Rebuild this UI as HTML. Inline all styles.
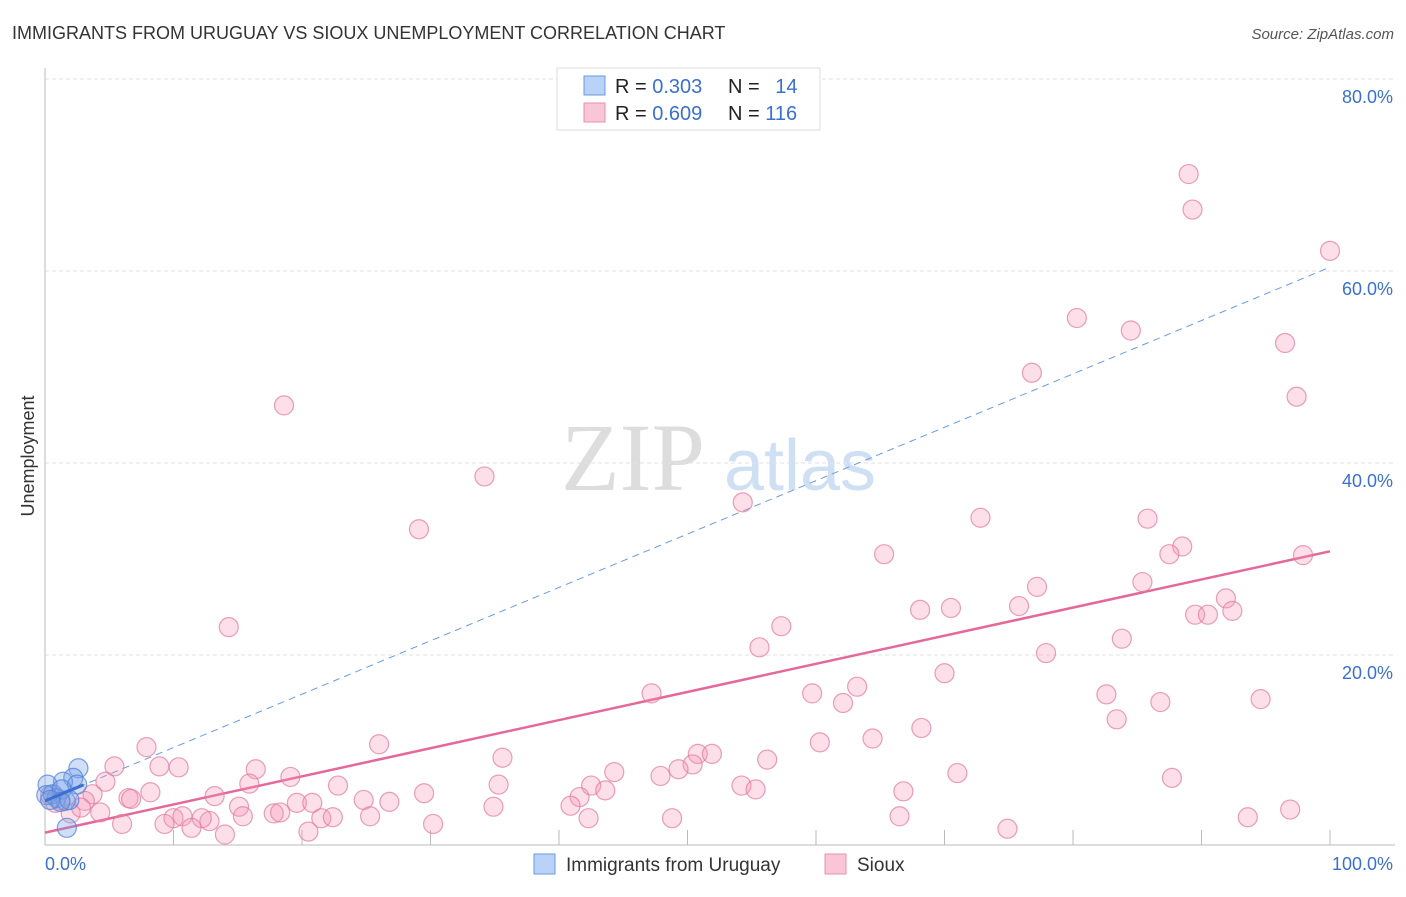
<!DOCTYPE html>
<html><head><meta charset="utf-8"><style>
body{margin:0;background:#fff;width:1406px;height:892px;overflow:hidden;font-family:"Liberation Sans",sans-serif}
</style></head><body>
<svg id="chart" width="1406" height="892" xmlns="http://www.w3.org/2000/svg" font-family="Liberation Sans, sans-serif">
<text x="12" y="39" font-size="18" fill="#333">IMMIGRANTS FROM URUGUAY VS SIOUX UNEMPLOYMENT CORRELATION CHART</text>
<text x="1394" y="39" font-size="15" font-style="italic" fill="#555" text-anchor="end">Source: ZipAtlas.com</text>
<g>
<text x="633" y="490" font-size="96" font-family="Liberation Serif, serif" fill="#ddd" text-anchor="middle">ZIP</text>
<text x="800" y="490" font-size="72" fill="#cfe0f5" text-anchor="middle">atlas</text>
</g>
<g id="grid"></g>
<g id="axes"></g>
<text transform="translate(34,456) rotate(-90)" font-size="18" fill="#333" text-anchor="middle">Unemployment</text>
<g id="lines"></g>
<g id="pts"></g>
<g>
<rect x="557" y="68" width="263" height="62" fill="#fff" stroke="#ddd"/>
<rect x="584" y="76" width="21" height="19" fill="#b8d3f5" stroke="#6a9be0"/>
<rect x="584" y="103" width="21" height="19" fill="#f9c6d5" stroke="#e890ac"/>
<text x="615" y="93" font-size="20" fill="#222">R = <tspan fill="#3b6fd0">0.303</tspan></text>
<text x="728" y="93" font-size="20" fill="#222">N = <tspan fill="#3b6fd0" dx="10">14</tspan></text>
<text x="615" y="120" font-size="20" fill="#222">R = <tspan fill="#3b6fd0">0.609</tspan></text>
<text x="728" y="120" font-size="20" fill="#222">N = <tspan fill="#3b6fd0">116</tspan></text>
</g>
<g>
<rect x="534" y="854" width="21" height="20" fill="#b8d3f5" stroke="#6a9be0"/>
<text x="566" y="871" font-size="19" fill="#333">Immigrants from Uruguay</text>
<rect x="825" y="854" width="21" height="20" fill="#f9c6d5" stroke="#e890ac"/>
<text x="857" y="871" font-size="19" fill="#333">Sioux</text>
</g>
</svg>
<script>
const yTicks=[20,40,60,80];
const yTickLabels=["20.0%","40.0%","60.0%","80.0%"];
const xTicks=[10,20,30,40,50,60,70,80,90,100];
const blueX=[2.6,2.2,1.4,2.5,0.2,0.6,0.9,1.6,0.1,1.7,1.3,1.9,1.2,0.4];
const blueY=[8.2,7.2,6.8,6.5,6.5,5.5,5.1,4.8,5.4,2.0,6.0,4.9,4.7,4.9];
const pinkX=[89.0,89.3,100,80.3,84.5,96.5,76.8,97.4,18.6,34.2,54.3,29.1,72.8,85.8,65.3,88.5,87.5,97.9,77.2,85.4,75.8,70.5,68.1,91.9,92.4,89.5,90.5,14.3,57.3,55.6,77.9,83.8,70.0,47.2,59.7,63.2,62.1,82.6,86.8,94.6,83.4,68.2,60.3,64.4,26.0,7.9,35.6,50.8,51.9,50.4,56.2,49.3,47.9,44.3,71.0,87.7,16.4,19.1,5.4,8.9,10.4,4.7,15.9,22.8,35.3,54.2,55.3,42.5,43.6,66.8,8.2,6.5,13.2,3.7,3.1,19.6,20.8,29.5,24.8,26.8,41.6,15.1,15.4,17.8,18.3,21.5,22.4,25.3,34.9,40.9,4.3,2.0,2.8,10.0,10.7,12.8,12.2,9.3,11.4,6.0,14.0,20.5,30.2,42.3,48.8,66.5,74.9,93.6,96.9,6.7,0.4,1.2,0.8];
const pinkY=[70.1,66.4,62.1,55.1,53.8,52.5,49.4,46.9,46.0,38.6,35.9,33.1,34.3,34.2,30.5,31.3,30.5,30.4,27.1,27.6,25.1,24.9,24.7,25.9,24.6,24.2,24.2,22.9,23.0,20.8,20.2,21.7,18.1,16.0,16.0,16.7,15.0,15.9,15.1,15.4,13.3,12.4,10.9,11.3,10.7,10.4,9.3,9.7,9.7,8.6,9.1,8.1,7.4,7.8,7.7,7.2,8.1,7.3,8.4,8.4,8.3,6.8,6.6,6.4,6.5,6.4,6.0,6.4,5.9,5.8,5.7,5.1,5.3,5.5,4.8,4.6,4.6,5.6,4.9,4.7,5.2,4.2,3.2,3.5,3.6,3.0,3.1,3.2,4.2,4.3,3.6,3.5,4.1,3.0,3.2,2.7,3.0,2.4,2.0,2.4,1.3,1.6,2.4,3.0,3.0,3.2,1.9,3.1,3.9,5.0,5.4,4.9,4.6];
const pinkTrend=[1.5,30.8];
const blueTrend=[4.8,60.4];
const NS="http://www.w3.org/2000/svg";
const X0=45,X1=1330,Y0=847,Y80=79;
function sx(v){return X0+(X1-X0)*v/100;}
function sy(v){return Y0-(Y0-Y80)*v/80;}
function mk(tag,attrs,parent){const e=document.createElementNS(NS,tag);for(const k in attrs)e.setAttribute(k,attrs[k]);parent.appendChild(e);return e;}
const grid=document.getElementById('grid'),axes=document.getElementById('axes'),lines=document.getElementById('lines'),pts=document.getElementById('pts');
yTicks.forEach((t,i)=>{
 const l=mk('line',{x1:X0,x2:1395,y1:sy(t),y2:sy(t),stroke:'#e2e2e2','stroke-dasharray':'4,3'},grid);
 
 
 const tx=mk('text',{x:1393,y:sy(t)+24,'font-size':18,fill:'#3b6fd0','text-anchor':'end'},axes);
 tx.textContent=yTickLabels[i];
 
 
});
const ya=mk('line',{x1:X0,x2:X0,y1:68,y2:845,stroke:'#bbb'},axes);


const xa=mk('line',{x1:X0,x2:1395,y1:845,y2:845,stroke:'#bbb'},axes);


xTicks.forEach(t=>{
 const l=mk('line',{x1:sx(t),x2:sx(t),y1:830,y2:845,stroke:'#bbb'},axes);
 
 
});
const xl0=mk('text',{x:45,y:870,'font-size':18,fill:'#3b6fd0'},axes);xl0.textContent='0.0%';


const xl1=mk('text',{x:1393,y:870,'font-size':18,fill:'#3b6fd0','text-anchor':'end'},axes);xl1.textContent='100.0%';


pinkX.forEach((x,i)=>{
 const c=mk('circle',{cx:sx(x),cy:sy(pinkY[i]),r:9.5,fill:'rgba(244,150,180,0.3)',stroke:'rgba(225,120,155,0.7)','stroke-width':1.2},pts);
 
 
});
blueX.forEach((x,i)=>{
 const c=mk('circle',{cx:sx(x),cy:sy(blueY[i]),r:9.5,fill:'rgba(120,160,230,0.35)',stroke:'rgba(80,130,220,0.75)','stroke-width':1.2},pts);
 
 
});
const bl=mk('line',{x1:sx(0),y1:sy(blueTrend[0]),x2:sx(100),y2:sy(blueTrend[1]),stroke:'#6b9ae0','stroke-width':1,'stroke-dasharray':'7,5'},lines);


const bs=mk('line',{x1:sx(0),y1:sy(blueTrend[0]),x2:sx(3),y2:sy(blueTrend[0]+(blueTrend[1]-blueTrend[0])*0.03),stroke:'#3b6fd0','stroke-width':3},pts);


const pl=mk('line',{x1:sx(0),y1:sy(pinkTrend[0]),x2:sx(100),y2:sy(pinkTrend[1]),stroke:'#e5689a','stroke-width':2.5},lines);


</script>
</body></html>
